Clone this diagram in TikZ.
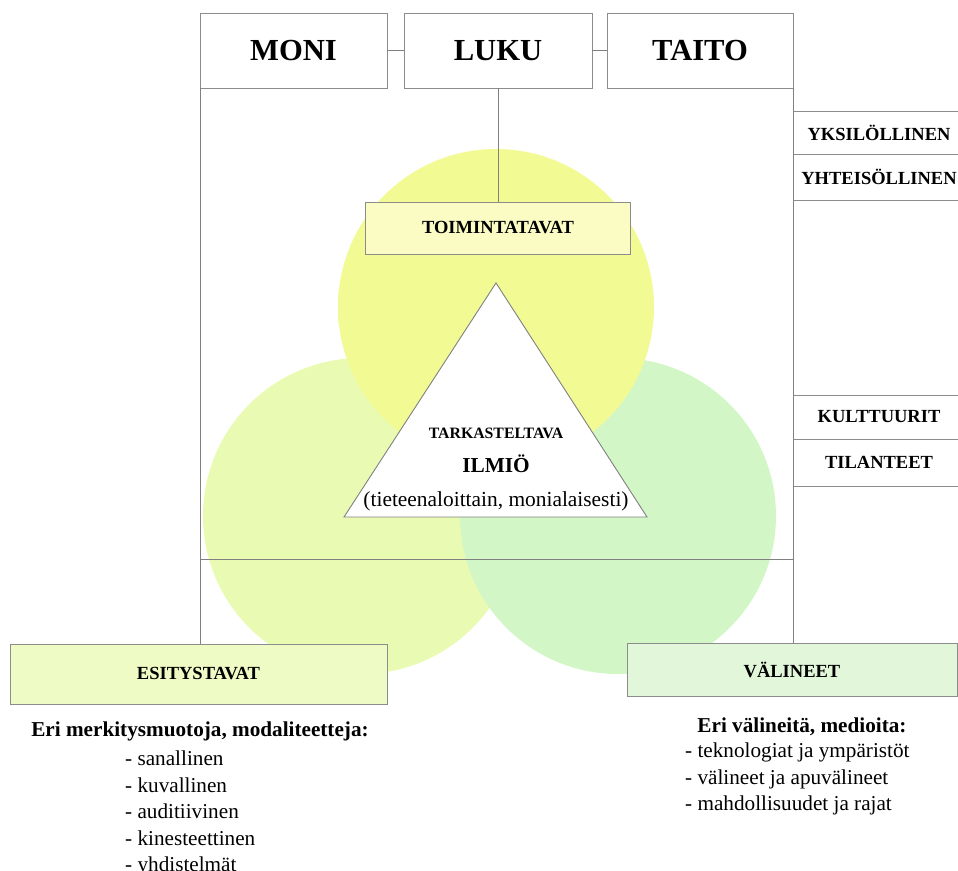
\documentclass[tikz,border=0pt]{standalone}
\usepackage{fontspec}
\setmainfont{Liberation Serif}
\usepackage{tikz}
\usetikzlibrary{positioning}
\definecolor{linegray}{RGB}{128,128,128}
\definecolor{boxgray}{RGB}{140,140,140}
\definecolor{toimfill}{RGB}{251,252,196}
\definecolor{esitfill}{RGB}{238,251,196}
\definecolor{valinfill}{RGB}{226,247,218}
\definecolor{topinner}{RGB}{242,250,148}
\definecolor{topouter}{RGB}{250,253,220}
\definecolor{leftinner}{RGB}{233,251,178}
\definecolor{leftouter}{RGB}{245,252,224}
\definecolor{rightinner}{RGB}{211,246,198}
\definecolor{rightouter}{RGB}{229,248,226}
\pgfdeclareradialshading{topball}{\pgfpoint{0bp}{0bp}}{color(0bp)=(topinner); color(26bp)=(topinner); color(50bp)=(topouter)}
\pgfdeclareradialshading{leftball}{\pgfpoint{0bp}{0bp}}{color(0bp)=(leftinner); color(26bp)=(leftinner); color(50bp)=(leftouter)}
\pgfdeclareradialshading{rightball}{\pgfpoint{0bp}{0bp}}{color(0bp)=(rightinner); color(26bp)=(rightinner); color(50bp)=(rightouter)}

\begin{document}
\begin{tikzpicture}[
    x=1pt, y=-1pt,
    line/.style={draw=linegray, line width=0.9pt},
    bigbox/.style={rectangle, draw=boxgray, line width=0.9pt, fill=white, outer sep=0pt, minimum width=187pt, minimum height=75pt, font=\bfseries\fontsize{30.6}{36}\selectfont},
    sidebox/.style={rectangle, draw=boxgray, line width=0.9pt, fill=white, outer sep=0pt, minimum width=172pt, font=\bfseries\fontsize{18.5}{22}\selectfont},
    labelbox/.style={rectangle, draw=boxgray, line width=0.9pt, outer sep=0pt, font=\bfseries\fontsize{18.5}{22}\selectfont},
    listtext/.style={align=left, inner sep=0pt, font=\fontsize{21.2}{26.4}\selectfont}
]
    \useasboundingbox (0,0) rectangle (958,870);

    % Circles
    \shade[shading=leftball] (361,516) circle (158);
    \shade[shading=rightball] (618,516) circle (158);
    \shade[shading=topball] (496,307) circle (158);

    % Top row
    \node[bigbox] (moni) at (293.5,50.5) {MONI};
    \node[bigbox, minimum width=188pt] (luku) at (498,50.5) {LUKU};
    \node[bigbox, minimum width=186pt] (taito) at (700,50.5) {TAITO};

    % Side boxes
    \node[sidebox, minimum height=43pt] (yksil) at (879,132.5) {YKSILÖLLINEN};
    \node[sidebox, minimum height=46pt, below=0pt of yksil] (yhteis) {YHTEISÖLLINEN};
    \node[sidebox, minimum height=44pt] (kult) at (879,417) {KULTTUURIT};
    \node[sidebox, minimum height=47pt, below=0pt of kult] (tilan) {TILANTEET};

    % Middle
    \node[labelbox, fill=toimfill, minimum width=265pt, minimum height=52pt] (toim) at (498,228) {TOIMINTATAVAT};
    \draw[line, fill=white] (496,283) -- (344,517) -- (647,517) -- cycle;
    \node[font=\bfseries\fontsize{15.8}{19}\selectfont] (tark) at (496,433) {TARKASTELTAVA};
    \node[font=\bfseries\fontsize{21.3}{25}\selectfont] (ilmio) at (496,464) {ILMIÖ};
    \node[font=\fontsize{21.4}{25}\selectfont] (tapa) at (496,501) {(tieteenaloittain, monialaisesti)};

    % Bottom
    \node[labelbox, fill=esitfill, minimum width=377pt, minimum height=60pt] (esit) at (198.5,674) {ESITYSTAVAT};
    \node[labelbox, fill=valinfill, minimum width=330pt, minimum height=53pt] (valin) at (792,669.5) {VÄLINEET};

    % Connectors
    \coordinate (cross) at (0,559);
    \draw[line] (moni) -- (luku);
    \draw[line] (luku) -- (taito);
    \draw[line] (luku.south) -- (luku.south |- toim.north);
    \draw[line] (moni.south west) -- (moni.south west |- esit.north);
    \draw[line] (taito.south east) -- (taito.south east |- valin.north);
    \draw[line] (moni.south west |- cross) -- (taito.south east |- cross);

    % Texts below
    \node[font=\bfseries\fontsize{21.2}{25}\selectfont] (esithead) at (200,731) {Eri merkitysmuotoja, modaliteetteja:};
    \node[listtext, anchor=north west] (esitlist) at (125,751) {- sanallinen\\- kuvallinen\\- auditiivinen\\- kinesteettinen\\- yhdistelmät};
    \node[font=\bfseries\fontsize{21.2}{25}\selectfont] (valinhead) at (802,727) {Eri välineitä, medioita:};
    \node[listtext, anchor=north west] (valinlist) at (685,743) {- teknologiat ja ympäristöt\\- välineet ja apuvälineet\\- mahdollisuudet ja rajat};
\end{tikzpicture}
\end{document}
